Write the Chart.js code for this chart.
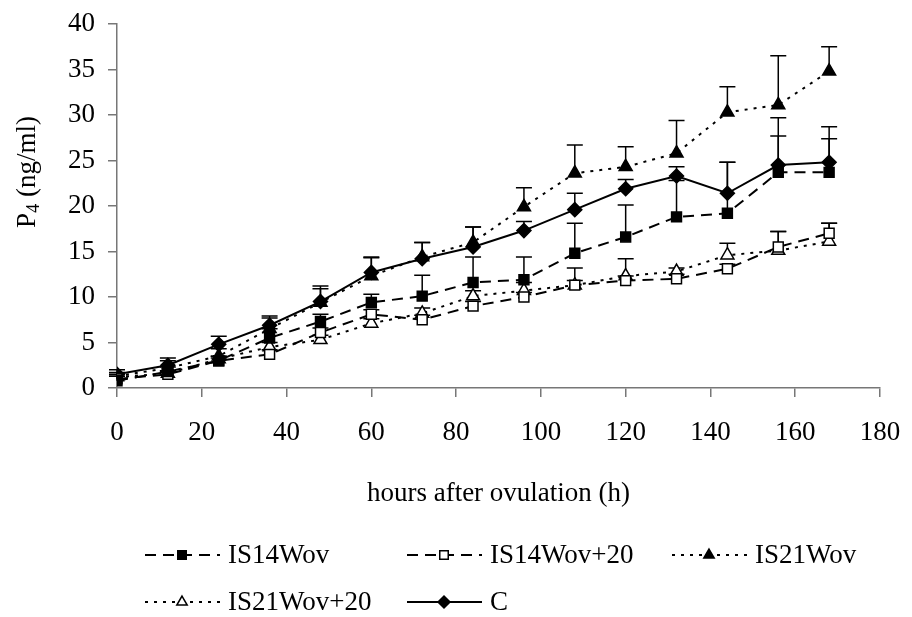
<!DOCTYPE html>
<html>
<head>
<meta charset="utf-8">
<script src="https://cdn.jsdelivr.net/npm/chart.js@4/dist/chart.umd.min.js"></script>
<style>
  html, body { margin: 0; padding: 0; background: #fff; }
  #wrap { width: 912px; height: 617px; }
</style>
</head>
<body>
<div id="wrap"><canvas id="chart" width="912" height="617"></canvas></div>
<script>
// hours after ovulation
const hours = [0, 12, 24, 36, 48, 60, 72, 84, 96, 108, 120, 132, 144, 156, 168];

// mean P4 values (ng/ml) and + error per group
const is14 = [0.8, 1.8, 3.0, 5.5, 7.3, 9.4, 10.1, 11.6, 11.9, 14.8, 16.6, 18.8, 19.2, 23.7, 23.7];
const is14Err = [0.5, 0.5, 0.5, 1.0, 0.8, 0.9, 2.3, 2.8, 2.5, 3.3, 3.5, 4.0, 5.6, 6.0, 5.0];

const is14p20 = [1.0, 1.5, 3.0, 3.7, 6.1, 8.1, 7.5, 9.0, 10.0, 11.3, 11.8, 12.0, 13.1, 15.5, 17.0];
const is14p20Err = [0.3, 0.3, 0.3, 0.5, 0.5, 0.5, 0.5, 0.5, 0.5, 0.5, 0.5, 0.5, 0.5, 1.7, 1.1];

const is21 = [1.3, 2.2, 3.5, 6.5, 9.4, 12.3, 14.4, 16.0, 19.9, 23.6, 24.3, 25.8, 30.3, 31.1, 34.8];
const is21Err = [0.4, 0.8, 0.8, 1.2, 1.5, 2.0, 1.6, 1.7, 2.1, 3.1, 2.2, 3.6, 2.8, 5.4, 2.7];

const is21p20 = [1.2, 1.6, 3.2, 4.5, 5.3, 7.1, 8.2, 10.1, 10.7, 11.3, 12.3, 12.8, 14.6, 15.1, 16.1];
const is21p20Err = [0.3, 0.3, 0.3, 0.5, 0.5, 0.5, 0.6, 0.6, 0.9, 1.9, 1.9, 0.4, 1.3, 2.1, 2.0];

const ctrl = [1.5, 2.5, 4.8, 6.9, 9.5, 12.7, 14.2, 15.5, 17.3, 19.6, 21.9, 23.3, 21.4, 24.5, 24.8];
const ctrlErr = [0.5, 0.8, 0.9, 1.0, 1.7, 1.7, 1.8, 2.2, 1.0, 1.8, 1.0, 1.0, 3.4, 3.2, 2.6];

const seriesNames = ['IS14Wov', 'IS14Wov+20', 'IS21Wov', 'IS21Wov+20', 'C'];
const xTicks = [0, 20, 40, 60, 80, 100, 120, 140, 160, 180];
const yTicks = [0, 5, 10, 15, 20, 25, 30, 35, 40];

const FONT = "'Liberation Serif', 'Times New Roman', serif";
const DASH = [11, 7];
const DOT = [3, 6];

function makeSet(label, values, errs, style, filled, dash) {
  return {
    label: label,
    data: hours.map((h, i) => ({ x: h, y: values[i] })),
    errs: errs,
    borderColor: '#000',
    borderWidth: 2,
    borderDash: dash,
    pointStyle: style,
    pointRadius: style === 'triangle' ? 7.5 : 7,
    pointBorderWidth: 1.5,
    pointBorderColor: '#000',
    pointBackgroundColor: filled ? '#000' : '#fff',
    tension: 0
  };
}

const datasets = [
  makeSet(seriesNames[0], is14, is14Err, 'rect', true, DASH),
  makeSet(seriesNames[1], is14p20, is14p20Err, 'rect', false, DASH),
  makeSet(seriesNames[2], is21, is21Err, 'triangle', true, DOT),
  makeSet(seriesNames[3], is21p20, is21p20Err, 'triangle', false, DOT),
  makeSet(seriesNames[4], ctrl, ctrlErr, 'rectRot', true, [])
];

// plus-only error bars with caps, drawn under the lines
const errorBars = {
  id: 'errorBars',
  beforeDatasetsDraw(chart) {
    const ctx = chart.ctx;
    const xs = chart.scales.x, ys = chart.scales.y;
    ctx.save();
    ctx.strokeStyle = '#000';
    ctx.lineWidth = 1.5;
    chart.data.datasets.forEach(ds => {
      ds.data.forEach((p, i) => {
        const px = xs.getPixelForValue(p.x);
        const y0 = ys.getPixelForValue(p.y);
        const y1 = ys.getPixelForValue(p.y + ds.errs[i]);
        ctx.beginPath();
        ctx.moveTo(px, y0);
        ctx.lineTo(px, y1);
        ctx.moveTo(px - 8, y1);
        ctx.lineTo(px + 8, y1);
        ctx.stroke();
      });
    });
    ctx.restore();
  }
};

// y axis title with subscript, and the two-row legend at the bottom
const extras = {
  id: 'extras',
  afterDraw(chart) {
    const ctx = chart.ctx;
    ctx.save();
    ctx.fillStyle = '#000';
    ctx.textBaseline = 'alphabetic';

    // y title: "P4 (ng/ml)"
    ctx.translate(35, 172);
    ctx.rotate(-Math.PI / 2);
    const big = '27px ' + FONT, small = '18px ' + FONT;
    ctx.font = big;
    const wP = ctx.measureText('P').width;
    const wRest = ctx.measureText(' (ng/ml)').width;
    ctx.font = small;
    const w4 = ctx.measureText('4').width;
    let x = -(wP + w4 + wRest) / 2;
    ctx.font = big;
    ctx.fillText('P', x, 0);
    x += wP;
    ctx.font = small;
    ctx.fillText('4', x, 4);
    x += w4;
    ctx.font = big;
    ctx.fillText(' (ng/ml)', x, 0);
    ctx.setTransform(1, 0, 0, 1, 0, 0);

    // legend
    const cols = [145, 407, 672];
    const rows = [555, 602];
    chart.data.datasets.forEach((ds, i) => {
      const lx = cols[i % 3], ly = rows[Math.floor(i / 3)];
      ctx.strokeStyle = '#000';
      ctx.lineWidth = 2;
      ctx.setLineDash(ds.borderDash);
      ctx.beginPath();
      ctx.moveTo(lx, ly);
      ctx.lineTo(lx + 75, ly);
      ctx.stroke();
      ctx.setLineDash([]);
      ctx.fillStyle = ds.pointBackgroundColor;
      ctx.lineWidth = 1.5;
      Chart.helpers.drawPoint(ctx, { pointStyle: ds.pointStyle, radius: 6, rotation: 0, borderWidth: 1.5 }, lx + 37, ly);
      ctx.fillStyle = '#000';
      ctx.font = '27px ' + FONT;
      ctx.textBaseline = 'middle';
      ctx.fillText(ds.label, lx + 83, ly + 1);
    });
    ctx.restore();
  }
};

new Chart(document.getElementById('chart'), {
  type: 'line',
  data: { datasets: datasets },
  plugins: [errorBars, extras],
  options: {
    responsive: false,
    animation: false,
    layout: { padding: { left: 0, top: 24, right: 32, bottom: 99 } },
    plugins: { legend: { display: false }, tooltip: { enabled: false } },
    scales: {
      x: {
        type: 'linear',
        min: 0,
        max: 180,
        afterBuildTicks: s => { s.ticks = xTicks.map(v => ({ value: v })); },
        afterFit: s => { s.height = 130; s.paddingLeft = 0; s.paddingRight = 0; },
        ticks: { color: '#000', font: { family: FONT, size: 27 }, padding: 20, maxRotation: 0 },
        grid: { drawOnChartArea: false, drawTicks: true, tickLength: 9, color: '#777', lineWidth: 1.5 },
        border: { color: '#777', width: 1.5 },
        title: {
          display: true,
          text: 'hours after ovulation (h)',
          color: '#000',
          font: { family: FONT, size: 27 },
          padding: { top: 0, bottom: 8 }
        }
      },
      y: {
        min: 0,
        max: 40,
        afterBuildTicks: s => { s.ticks = yTicks.map(v => ({ value: v })); },
        afterFit: s => { s.width = 117; s.paddingTop = 0; s.paddingBottom = 0; },
        ticks: { color: '#000', font: { family: FONT, size: 27 }, padding: 13 },
        grid: { drawOnChartArea: false, drawTicks: true, tickLength: 9, color: '#777', lineWidth: 1.5 },
        border: { color: '#777', width: 1.5 }
      }
    }
  }
});
</script>
</body>
</html>
